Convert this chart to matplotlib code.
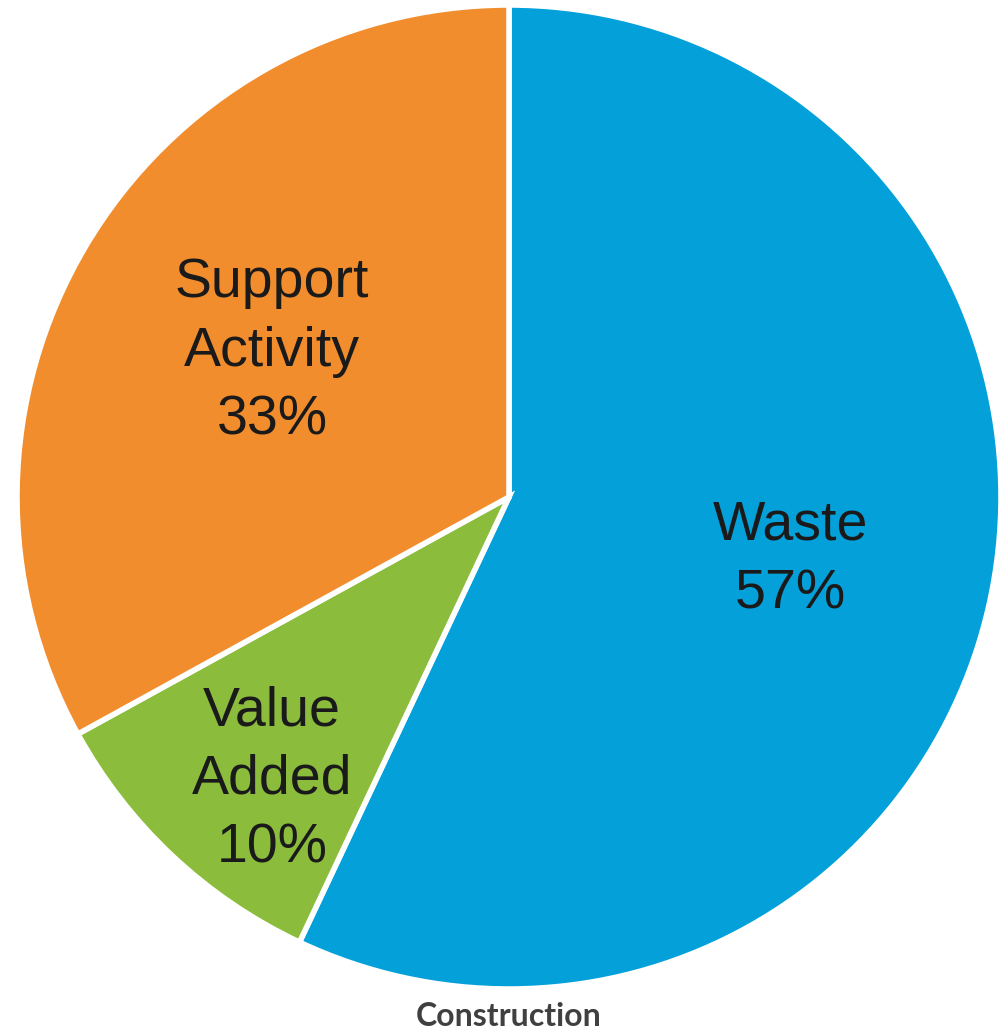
import matplotlib.pyplot as plt

labels = ["Waste", "Value\nAdded", "Support\nActivity"]
shares = [57, 10, 33]
colors = ["#03A0DA", "#8CBC3C", "#F28D2D"]

W, H = 1004, 1036
cx, cy, r = 509, 497, 492

fig = plt.figure(figsize=(W / 100, H / 100), dpi=100)
ax = fig.add_axes([(cx - r) / W, 1 - (cy + r) / H, 2 * r / W, 2 * r / H])

wedges, texts = ax.pie(
    shares, colors=colors, startangle=90, counterclock=False,
    wedgeprops=dict(edgecolor="white", linewidth=4),
)
ax.set_xlim(-1, 1)
ax.set_ylim(-1, 1)
ax.set_aspect("equal")
ax.axis("off")

# label centres in pixels
label_pos = [(790, 560), (272, 780), (272, 352)]
for lab, val, (px, py) in zip(labels, shares, label_pos):
    fig.text(px / W, 1 - py / H, f"{lab}\n{val}%", ha="center", va="center",
             fontsize=40, color="#1a1a1a", family="Liberation Sans",
             linespacing=1.42)

fig.text(cx / W, 1 - 1017 / H, "Construction", ha="center", va="center",
         fontsize=23, fontweight="bold", color="#404040", family="Lato")

fig.savefig("out.png", dpi=100)
